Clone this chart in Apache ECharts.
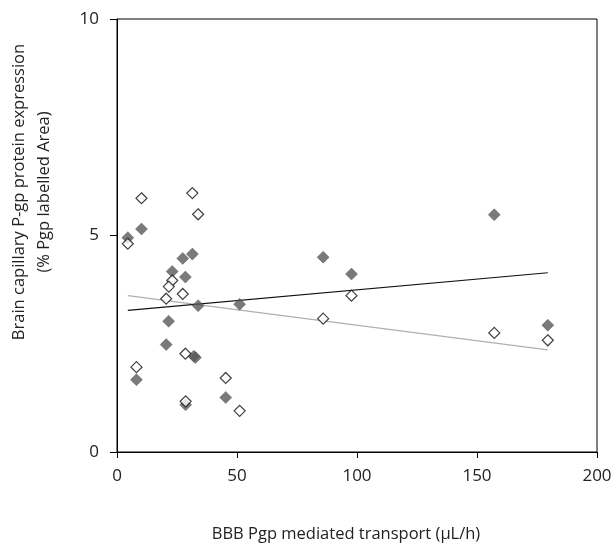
<!DOCTYPE html>
<html>
<head>
<meta charset="utf-8">
<script src="https://cdn.jsdelivr.net/npm/echarts@6/dist/echarts.min.js"></script>
<style>
  html, body { margin: 0; padding: 0; background: #fff; }
  #chart { width: 615px; height: 543px; }
</style>
</head>
<body>
<div id="chart"></div>
<script>
  // filled diamonds
  const filledPoints = [
    [4.5, 4.95], [10.2, 5.15], [27.4, 4.47], [31.4, 4.57], [23.0, 4.17],
    [28.5, 4.04], [33.8, 3.38], [51.1, 3.41], [21.5, 3.02], [20.5, 2.48],
    [32.0, 2.21], [32.7, 2.18], [8.1, 1.67], [45.3, 1.26], [28.6, 1.09],
    [85.9, 4.50], [97.7, 4.11], [157.2, 5.48], [179.5, 2.93]
  ];
  // open diamonds
  const openPoints = [
    [10.2, 5.86], [31.4, 5.98], [33.8, 5.49], [4.5, 4.81], [23.0, 3.96],
    [21.6, 3.82], [27.4, 3.65], [20.5, 3.54], [28.5, 2.27], [8.1, 1.96],
    [45.3, 1.71], [28.6, 1.17], [51.1, 0.95], [97.7, 3.61], [85.9, 3.08],
    [157.2, 2.75], [179.5, 2.58]
  ];
  // trend lines (end points)
  const filledTrend = [[4.5, 3.27], [179.5, 4.14]];
  const openTrend = [[4.5, 3.61], [179.5, 2.36]];

  const xTicks = [0, 50, 100, 150, 200];
  const yTicks = [0, 5, 10];
  const yTitle = ['Brain capillary P-gp protein expression', '(% Pgp labelled Area)'];

  const font = '"Open Sans", "Liberation Sans", sans-serif';

  const chart = echarts.init(document.getElementById('chart'));
  chart.setOption({
    animation: false,
    grid: {
      left: 117,
      right: 18,
      top: 19,
      bottom: 91,
      outerBoundsMode: 'none',
      containLabel: false,
      show: true,
      borderColor: '#000',
      borderWidth: 1
    },
    graphic: yTitle.map((t, i) => ({
      type: 'text',
      x: 19 + i * 25,
      y: 192,
      rotation: Math.PI / 2,
      style: {
        text: t,
        font: '16.5px ' + font,
        fill: '#222',
        textAlign: 'center',
        textVerticalAlign: 'middle'
      }
    })),
    xAxis: {
      type: 'value',
      min: xTicks[0],
      max: xTicks[xTicks.length - 1],
      interval: 50,
      name: 'BBB Pgp mediated transport (\u03bcL/h)',
      nameLocation: 'middle',
      nameGap: 74,
      nameTextStyle: { fontFamily: font, fontSize: 16.5, color: '#222', padding: [0, 22, 0, 0] },
      axisLine: { lineStyle: { color: '#000', width: 1 } },
      axisTick: { show: true, length: 6, lineStyle: { color: '#000' } },
      axisLabel: { fontFamily: font, fontSize: 17, color: '#222', margin: 16 },
      splitLine: { show: false }
    },
    yAxis: {
      type: 'value',
      min: yTicks[0],
      max: yTicks[yTicks.length - 1],
      interval: 5,
      axisLine: { lineStyle: { color: '#000', width: 1 } },
      axisTick: { show: true, length: 7, lineStyle: { color: '#000' } },
      axisLabel: { fontFamily: font, fontSize: 17, color: '#222', margin: 18 },
      splitLine: { show: false }
    },
    series: [
      {
        type: 'line',
        data: openTrend,
        symbol: 'none',
        lineStyle: { color: '#b0b0b0', width: 1.2 },
        z: 1
      },
      {
        type: 'line',
        data: filledTrend,
        symbol: 'none',
        lineStyle: { color: '#111', width: 1.2 },
        z: 1
      },
      {
        type: 'scatter',
        data: filledPoints,
        symbol: 'diamond',
        symbolSize: 12,
        itemStyle: { color: '#595959', borderColor: '#4a4a4a', borderWidth: 0.5 },
        z: 2
      },
      {
        type: 'scatter',
        data: openPoints,
        symbol: 'diamond',
        symbolSize: 11,
        itemStyle: { color: '#fff', borderColor: '#111', borderWidth: 1.2 },
        z: 3
      }
    ]
  });
</script>
</body>
</html>
